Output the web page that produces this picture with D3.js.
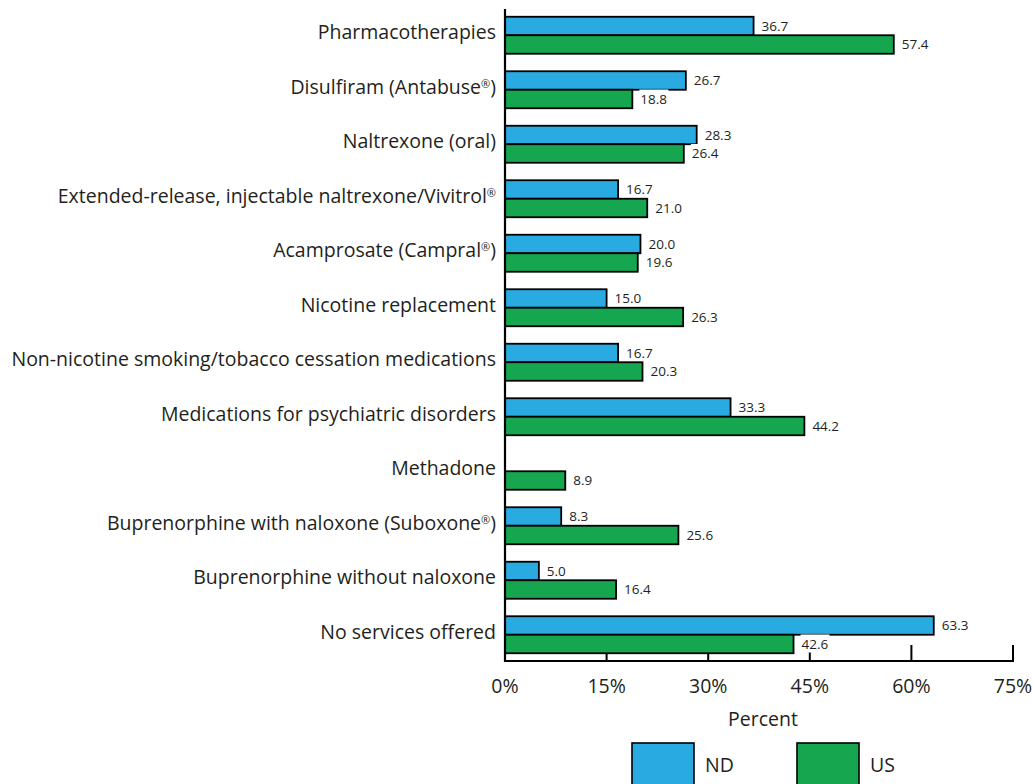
<!DOCTYPE html>
<html><head><meta charset="utf-8">
<script src="https://cdn.jsdelivr.net/npm/d3@7"></script>
<style>body{margin:0;background:#fff}svg{display:block}text{font-family:"Open Sans",sans-serif;fill:#231f20}</style>
</head><body><svg id="c" width="1033" height="784"></svg>
<script>
const categories = ["Pharmacotherapies","Disulfiram (Antabuse®)","Naltrexone (oral)","Extended-release, injectable naltrexone/Vivitrol®","Acamprosate (Campral®)","Nicotine replacement","Non-nicotine smoking/tobacco cessation medications","Medications for psychiatric disorders","Methadone","Buprenorphine with naloxone (Suboxone®)","Buprenorphine without naloxone","No services offered"];
const ndValues = [36.7,26.7,28.3,16.7,20.0,15.0,16.7,33.3,0,8.3,5.0,63.3];
const usValues = [57.4,18.8,26.4,21.0,19.6,26.3,20.3,44.2,8.9,25.6,16.4,42.6];
const seriesNames = ["ND","US"];
const xTicks = [0,15,30,45,60,75];
const colors = {ND:"#29abe2", US:"#16a64f"};

const svg = d3.select("#c");
const x = d3.scaleLinear().domain([0,75]).range([505,1013]);
const y = d3.scaleBand().domain(categories).range([8,662]);
const barH = 18.5;
const axisY = 661;

// ticks
svg.append("g").selectAll("line").data(xTicks.slice(1)).join("line")
  .attr("x1",d=>x(d)).attr("x2",d=>x(d)).attr("y1",axisY).attr("y2",axisY-16)
  .attr("stroke","#000").attr("stroke-width",2);

const groups = svg.append("g").selectAll("g").data(categories).join("g")
  .attr("transform",d=>`translate(0,${y(d)+y.bandwidth()/2})`);

const series = [{k:"ND",vals:ndValues,off:-barH},{k:"US",vals:usValues,off:0}];
series.forEach(s=>{
  groups.append("rect")
    .attr("x",x(0)).attr("y",s.off)
    .attr("width",(d,i)=>x(s.vals[i])-x(0)).attr("height",barH)
    .attr("fill",colors[s.k]).attr("stroke","#000").attr("stroke-width",1.8)
    .style("display",(d,i)=>s.vals[i]>0?null:"none");
  const lbl = groups.append("g");
  lbl.each(function(d,i){
    if(!(s.vals[i]>0)) return;
    const g=d3.select(this);
    const t=g.append("text").attr("x",x(s.vals[i])+8).attr("y",s.off+barH/2+4.5)
      .attr("font-size",13.5).text(s.vals[i].toFixed(1));
    const b=t.node().getBBox();
    g.insert("rect","text").attr("x",b.x-1).attr("y",b.y).attr("width",b.width+2).attr("height",b.height).attr("fill","#fff");
  });
});

// category labels
groups.append("text").attr("x",496).attr("y",4).attr("text-anchor","end")
  .attr("font-size",19.5)
  .each(function(d){
    const t=d3.select(this);
    const parts=d.split("®");
    parts.forEach((p,i)=>{
      const sp=t.append("tspan").text(p);
      if(i>0) sp.attr("dy",6);
      if(i<parts.length-1) t.append("tspan").attr("font-size",11).attr("dy",-6).text("®");
    });
  });

// axes
svg.append("line").attr("x1",x(0)).attr("x2",x(0)).attr("y1",9).attr("y2",axisY+1).attr("stroke","#000").attr("stroke-width",2.2);
svg.append("line").attr("x1",x(0)-1).attr("x2",x(75)+1).attr("y1",axisY).attr("y2",axisY).attr("stroke","#000").attr("stroke-width",2.2);

svg.append("g").selectAll("text").data(xTicks).join("text")
  .attr("x",d=>x(d)).attr("y",693).attr("text-anchor","middle").attr("font-size",19.5)
  .text(d=>d+"%");

svg.append("text").attr("x",763).attr("y",726).attr("text-anchor","middle").attr("font-size",19.5).text("Percent");

// legend
const legX = [632,797];
seriesNames.forEach((n,i)=>{
  svg.append("rect").attr("x",legX[i]).attr("y",743).attr("width",62).attr("height",50)
    .attr("fill",colors[n]).attr("stroke","#000").attr("stroke-width",1.6);
  svg.append("text").attr("x",legX[i]+73).attr("y",772).attr("font-size",19.5).text(n);
});
</script></body></html>
